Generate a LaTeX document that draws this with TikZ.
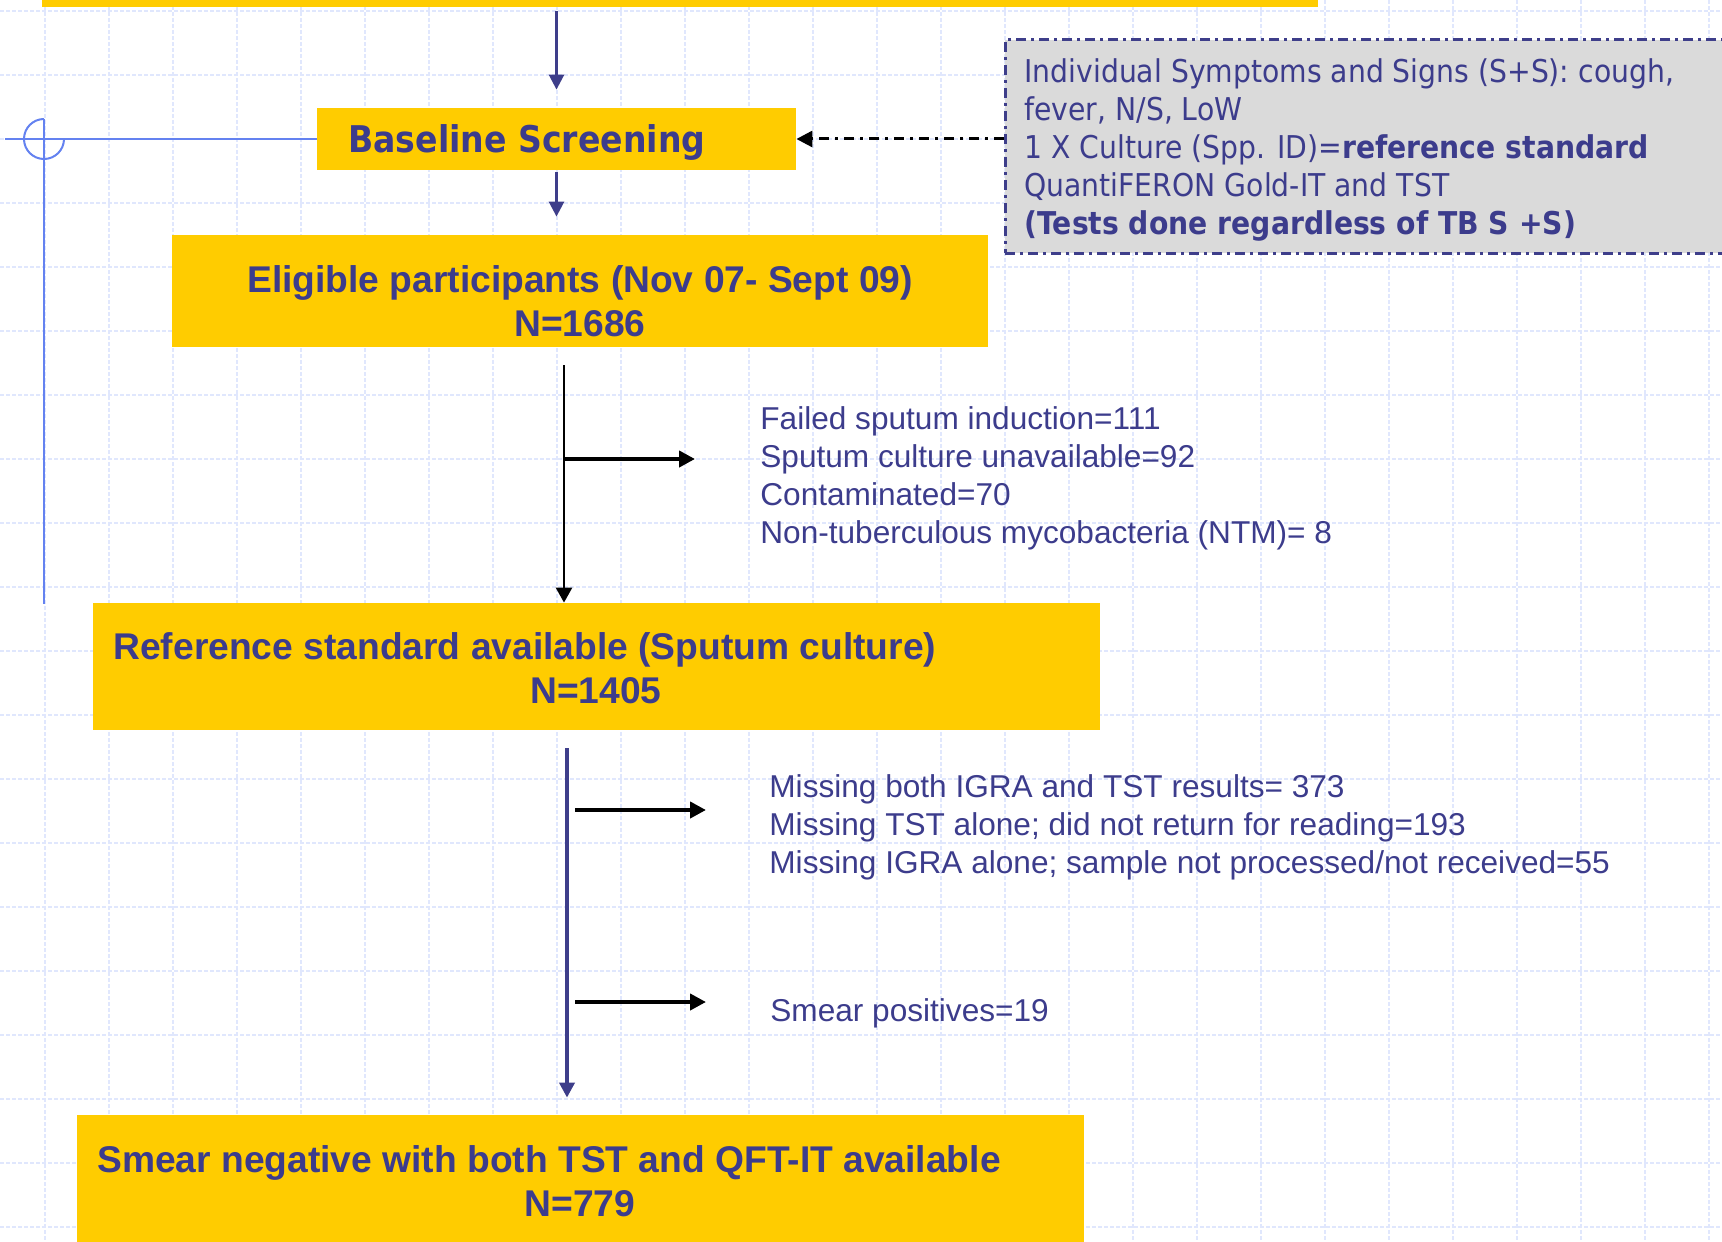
\documentclass[tikz,border=0pt]{standalone}
\usepackage{fontspec}
\setmainfont{Liberation Sans}
\newfontfamily\tahomafont{DejaVu Sans}[FakeStretch=0.9]
\usetikzlibrary{arrows.meta}

\definecolor{boxyellow}{RGB}{255,204,0}
\definecolor{txtblue}{RGB}{60,60,140}
\definecolor{arrowblue}{RGB}{62,62,138}
\definecolor{crossblue}{RGB}{100,130,240}
\definecolor{gridblue}{RGB}{224,231,253}
\definecolor{notegray}{RGB}{218,218,218}

\begin{document}
\begin{tikzpicture}[x = .5pt, y = -.5pt,
  gridline/.style={draw=gridblue, line width=1pt, dash pattern=on 2pt off 1pt},
  ybox/.style={fill=boxyellow, inner sep=0pt},
  notebox/.style={fill=notegray, draw=arrowblue, line width=1.5pt, inner sep=0pt,
    dash pattern=on 5pt off 2.5pt on 1.5pt off 2.5pt},
  head/.style={text=txtblue, inner sep=0pt, font=\fontsize{18.6pt}{22pt}\selectfont\bfseries},
  list/.style={text=txtblue, inner sep=0pt, align=left, anchor=north west,
    font=\fontsize{15.8pt}{19pt}\selectfont},
  crossline/.style={draw=crossblue, line width=1pt},
  flow/.style={draw=arrowblue, line width=1.3pt, -{Triangle[width=7.5pt,length=7.5pt]}},
  drop/.style={draw=black, line width=1.3pt, -{Triangle[width=8pt,length=7.5pt]}},
  branch/.style={draw=black, line width=2pt, -{Triangle[width=8pt,length=8pt]}},
  notearrow/.style={draw=black, line width=1.5pt, -{Triangle[width=8pt,length=8pt]},
    dash pattern=on 5pt off 3pt on 1.5pt off 3pt}]
\useasboundingbox (0,0) rectangle (1722,1241);

% background grid
\foreach \gx in {45,109,...,1709} \draw[gridline] (\gx,0) -- (\gx,1241);
\foreach \gy in {11,75,...,1227} \draw[gridline] (0,\gy) -- (1722,\gy);

% Boxes
\node[ybox, minimum width=638pt, minimum height=23.5pt] (top) at (680,-16.5) {};
\node[ybox, minimum width=239.5pt, minimum height=31pt] (base) at (556.5,139) {};
\node[ybox, minimum width=408pt, minimum height=56pt] (elig) at (580,291) {};
\node[ybox, minimum width=503.5pt, minimum height=63.5pt] (ref) at (596.5,666.5) {};
\node[ybox, minimum width=503.5pt, minimum height=75pt] (smear) at (580.5,1190) {};
\node[notebox, minimum width=377.5pt, minimum height=106.5pt] (note) at (1382.5,146.5) {};

% Box texts
\node[text=txtblue, inner sep=0pt, anchor=base west,
  font=\tahomafont\bfseries\fontsize{18.4pt}{22pt}\selectfont] (baselbl) at (348,153) {Baseline Screening};
\node[head, anchor=base] (elig1) at (580,292) {Eligible participants (Nov 07- Sept 09)};
\node[head, anchor=base] (elig2) at (580,336) {N=1686};
\node[head, anchor=base west] (ref1) at (113,659) {Reference standard available (Sputum culture)};
\node[head, anchor=base] (ref2) at (596,703) {N=1405};
\node[head, anchor=base west] (smear1) at (97,1172) {Smear negative with both TST and QFT-IT available};
\node[head, anchor=base] (smear2) at (580,1216) {N=779};

% Screening details
\node[list, font=\tahomafont\fontsize{15.7pt}{19pt}\selectfont] (notetxt) at (1024,58) {Individual Symptoms and Signs (S+S): cough,\\
fever, N/S, LoW\\
1 X Culture (Spp. ID)=\textbf{reference standard}\\
QuantiFERON Gold-IT and TST\\
\textbf{(Tests done regardless of TB S +S)}};

% Exclusions
\node[list] (failed) at (760,406) {Failed sputum induction=111\\
Sputum culture unavailable=92\\
Contaminated=70\\
Non-tuberculous mycobacteria (NTM)= 8};
\node[list] (missing) at (769,774) {Missing both IGRA and TST results= 373\\
Missing TST alone; did not return for reading=193\\
Missing IGRA alone; sample not processed/not received=55};
\node[list] (smearpos) at (770,998) {Smear positives=19};

% Crosshair mark
\coordinate (crossc) at (44,139);
\coordinate (crossend) at (44,604);
\draw[crossline] (base.west) -- (5,139);
\draw[crossline] (crossc) ++(20,0) arc[start angle=0, end angle=270, radius=20];
\draw[crossline] (crossc) ++(0,-20) -- (crossend);

% Flow arrows
\draw[flow, shorten <=2pt, shorten >=9pt] (base.north |- top.south) -- (base.north);
\draw[flow, shorten <=1pt, shorten >=9pt] (base.south) -- (base.south |- elig.north);
\draw[notearrow] (note.west |- base.east) -- (base.east);

\coordinate (drop1) at (564,459);
\coordinate (out1) at (695,459);
\draw[drop, shorten <=9pt] (drop1 |- elig.south) -- (drop1 |- ref.north);
\draw[branch] (drop1) -- (out1);

\coordinate (drop2) at (567,810);
\draw[flow, line width=2pt, shorten <=9pt, shorten >=8.5pt] (drop2 |- ref.south) -- (drop2 |- smear.north);
\coordinate (in2) at (575,810);
\coordinate (out2) at (706,810);
\draw[branch] (in2) -- (out2);
\coordinate (in3) at (575,1002);
\coordinate (out3) at (706,1002);
\draw[branch] (in3) -- (out3);
\end{tikzpicture}
\end{document}
